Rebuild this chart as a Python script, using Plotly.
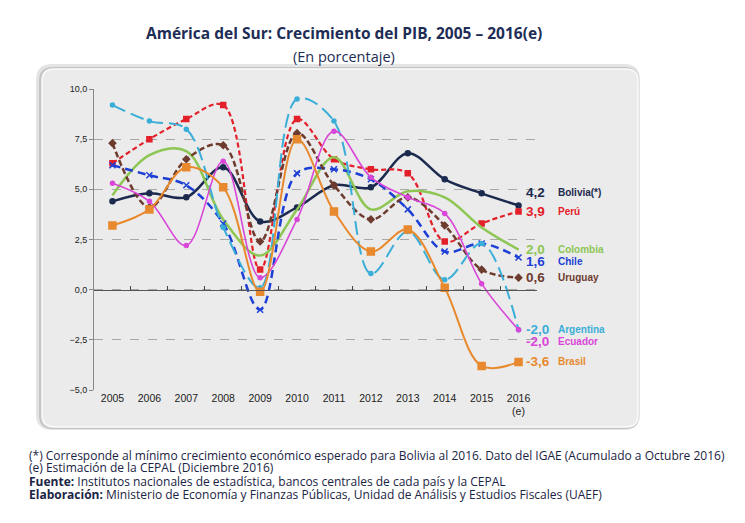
import plotly.graph_objects as go

# datos (crecimiento del PIB, %)
years = [2005, 2006, 2007, 2008, 2009, 2010, 2011, 2012, 2013, 2014, 2015, 2016]
year_labels = ["2005", "2006", "2007", "2008", "2009", "2010", "2011",
               "2012", "2013", "2014", "2015", "2016<br>(e)"]

bolivia = [4.4, 4.8, 4.6, 6.1, 3.4, 4.1, 5.2, 5.1, 6.8, 5.5, 4.8, 4.2]
peru = [6.3, 7.5, 8.5, 9.2, 1.0, 8.5, 6.5, 6.0, 5.8, 2.4, 3.3, 3.9]
colombia = [4.7, 6.7, 6.9, 3.5, 1.7, 4.0, 6.6, 4.0, 4.9, 4.6, 3.1, 2.0]
chile = [6.2, 5.7, 5.2, 3.3, -1.0, 5.8, 6.0, 5.5, 4.0, 1.9, 2.3, 1.6]
uruguay = [7.3, 4.1, 6.5, 7.2, 2.4, 7.8, 5.2, 3.5, 4.6, 3.2, 1.0, 0.6]
argentina = [9.2, 8.4, 8.0, 3.1, 0.1, 9.5, 8.4, 0.8, 2.9, 0.5, 2.3, -2.0]
ecuador = [5.3, 4.4, 2.2, 6.4, 0.6, 3.5, 7.9, 5.6, 4.6, 3.8, 0.3, -2.0]
brasil = [3.2, 4.0, 6.1, 5.1, -0.1, 7.5, 3.9, 1.9, 3.0, 0.1, -3.8, -3.6]

names = ["Bolivia(*)", "Perú", "Colombia", "Chile", "Uruguay",
         "Argentina", "Ecuador", "Brasil"]
series = [bolivia, peru, colombia, chile, uruguay, argentina, ecuador, brasil]

# estilos: color, dash, ancho, simbolo, tamano, desplazamiento etiqueta (px)
styles = [
    ("#1b2a4e", "solid", 2.5, "circle", 5, 13),
    ("#e3202a", "5px,3px", 2.2, "square", 5, 0),
    ("#8dc653", "solid", 2.5, "circle", 0, 0),
    ("#1d3fd6", "8px,5px", 2.5, "x-thin-open", 6, -4),
    ("#6e3b2f", "6px,3px", 2.5, "diamond", 5, 0),
    ("#3aaed8", "14px,6px", 2.0, "circle", 4, 0),
    ("#d946d8", "solid", 1.6, "circle", 4, -12),
    ("#e8892e", "solid", 2.0, "square", 7, 0),
]

fig = go.Figure()

for name, vals, st in zip(names, series, styles):
    color, dash, width, symbol, size, _ = st
    fig.add_trace(go.Scatter(
        x=years, y=vals, name=name,
        mode="lines+markers" if size else "lines",
        line=dict(color=color, dash=dash, width=width, shape="spline", smoothing=1.0),
        marker=dict(symbol=symbol, size=size, color=color,
                    line=dict(color=color, width=1.5)),
        showlegend=False,
    ))

# eje auxiliar para las marcas sobre la linea del cero
fig.add_trace(go.Scatter(x=[None], y=[None], xaxis="x2", showlegend=False))

annotations = []
for name, vals, st in zip(names, series, styles):
    color, shift = st[0], st[5]
    last = vals[-1]
    annotations.append(dict(
        x=years[-1], y=last, xref="x", yref="y", xanchor="left", yanchor="middle",
        xshift=5, yshift=shift, showarrow=False,
        text="<b>%s</b>" % ("%.1f" % last).replace(".", ","),
        font=dict(family="Arial", size=13.5, color=color),
    ))
    annotations.append(dict(
        x=years[-1], y=last, xref="x", yref="y", xanchor="left", yanchor="middle",
        xshift=37, yshift=shift, showarrow=False,
        text="<b>%s</b>" % name,
        font=dict(family="Arial", size=10, color=color),
    ))

foot = [
    "(*) Corresponde al mínimo crecimiento económico esperado para Bolivia al 2016. Dato del IGAE (Acumulado a Octubre 2016)",
    "(e) Estimación de la CEPAL (Diciembre 2016)",
    "<b>Fuente:</b> Institutos nacionales de estadística, bancos centrales de cada país y la CEPAL",
    "<b>Elaboración:</b> Ministerio de Economía y Finanzas Públicas, Unidad de Análisis y Estudios Fiscales (UAEF)",
]
foot_y = [455, 467.5, 481, 494]
for line, fy in zip(foot, foot_y):
    annotations.append(dict(
        x=-0.152, y=(390 - fy) / 301, xref="paper", yref="paper",
        xanchor="left", yanchor="middle", showarrow=False, align="left",
        text=line, font=dict(family="Open Sans", size=12, color="#1a2444"),
    ))

annotations.append(dict(
    x=0.565, y=(390 - 20) / 301, xref="paper", yref="paper", showarrow=False,
    text="<b>América del Sur: Crecimiento del PIB, 2005 – 2016(e)</b>",
    font=dict(family="Open Sans", size=15.5, color="#1d2d55"),
))
annotations.append(dict(
    x=0.565, y=(390 - 45) / 301, xref="paper", yref="paper", showarrow=False,
    text="(En porcentaje)",
    font=dict(family="Open Sans", size=14.5, color="#1d2d55"),
))


def rounded(x0, y0, x1, y1, rx, ry):
    return (f"M {x0 + rx},{y0} L {x1 - rx},{y0} Q {x1},{y0} {x1},{y0 + ry} "
            f"L {x1},{y1 - ry} Q {x1},{y1} {x1 - rx},{y1} "
            f"L {x0 + rx},{y1} Q {x0},{y1} {x0},{y1 - ry} "
            f"L {x0},{y0 + ry} Q {x0},{y0} {x0 + rx},{y0} Z")


px_x = 1 / 443
px_y = 1 / 301
bx0, bx1, by0, by1 = -0.1174, 1.228, -0.1229, 1.0664
shapes = [
    dict(type="path", xref="paper", yref="paper", layer="below",
         path=rounded(bx0 - 6 * px_x, by0 - 3 * px_y, bx1 + 2 * px_x, by1 + 5 * px_y,
                      16 * px_x, 16 * px_y),
         fillcolor="#e4e4e4", line=dict(width=0)),
    dict(type="path", xref="paper", yref="paper", layer="below",
         path=rounded(bx0 - 3 * px_x, by0 - 2 * px_y, bx1 + 1 * px_x, by1 + 2 * px_y,
                      14 * px_x, 14 * px_y),
         fillcolor="#c4c4c4", line=dict(width=0)),
    dict(type="path", xref="paper", yref="paper", layer="below",
         path=rounded(bx0, by0, bx1, by1, 12 * px_x, 12 * px_y),
         fillcolor="#ebebeb", line=dict(color="#fbfbfb", width=1.5)),
]

# la pagina tiene 8px de margen: se compensa en los margenes
fig.update_layout(
    width=737, height=515,
    margin=dict(l=86, r=208, t=81, b=133),
    paper_bgcolor="white", plot_bgcolor="rgba(0,0,0,0)",
    separators=",.",
    shapes=shapes, annotations=annotations,
    xaxis=dict(range=[2004.5, 2016.5], tickvals=years, ticktext=year_labels,
               showgrid=False, zeroline=False, showline=False, ticks="",
               tickfont=dict(family="Arial", size=10.5, color="#222")),
    xaxis2=dict(range=[2004.5, 2016.5], overlaying="x", anchor="free", position=1 / 3,
                side="bottom", tickvals=[y + 0.5 for y in years[:-1]], ticks="inside",
                ticklen=4, tickcolor="#444", showticklabels=False, showgrid=False,
                zeroline=False, showline=True, linecolor="#555", linewidth=1),
    yaxis=dict(range=[-5, 10], tickvals=[-5, -2.5, 0, 2.5, 5, 7.5, 10], tickformat=".1f",
               showgrid=True, gridcolor="#a8a8a8", griddash="dash", gridwidth=0.8,
               zeroline=False, showline=True, linecolor="#888", linewidth=1,
               ticks="outside", ticklen=4, tickcolor="#888",
               tickfont=dict(family="Arial", size=9, color="#222")),
)

fig.write_html("out.html")
